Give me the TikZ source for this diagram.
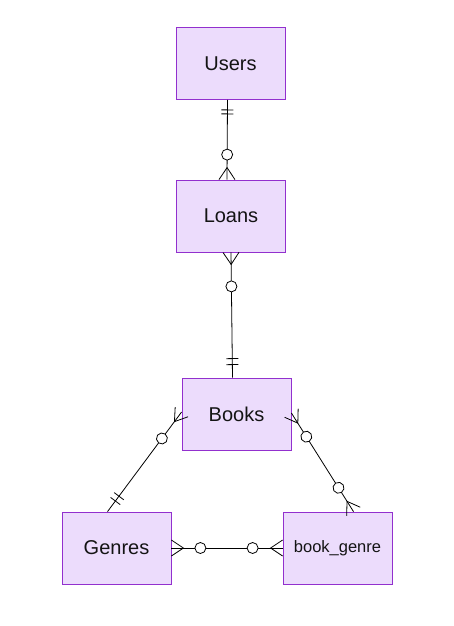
\documentclass[tikz,border=0pt]{standalone}
\usepackage{fontspec}
\setmainfont{Liberation Sans}
\usetikzlibrary{decorations.markings}
\definecolor{entfill}{RGB}{236,220,252}
\definecolor{entborder}{RGB}{146,48,206}
\definecolor{inktext}{RGB}{20,20,20}
\tikzset{
  entity/.style={draw=entborder, fill=entfill, line width=0.8pt,
    minimum width=109pt, minimum height=72pt, inner sep=0pt,
    text=inktext, font=\fontsize{20}{24}\selectfont},
  rel/.style={draw=black, line width=0.8pt},
  % one and only one
  onestart/.style={postaction={decorate, decoration={markings,
    mark=at position 10pt with {\draw[line width=0.8pt] (0,-6pt) -- (0,6pt);},
    mark=at position 14pt with {\draw[line width=0.8pt] (0,-6pt) -- (0,6pt);}}}},
  oneend/.style={postaction={decorate, decoration={markings,
    mark=at position -19pt with {\draw[line width=0.8pt] (0,-6pt) -- (0,6pt);},
    mark=at position -13pt with {\draw[line width=0.8pt] (0,-6pt) -- (0,6pt);}}}},
  % zero or many
  manystart/.style={postaction={decorate, decoration={markings,
    mark=at position 12pt with {\draw[line width=0.8pt] (-12pt,8pt) -- (0,0) -- (-12pt,-8pt);},
    mark=at position #1 with {\draw[line width=0.8pt, fill=white] (0,0) circle (5.5pt);}}}},
  manystart/.default=29pt,
  manyend/.style={postaction={decorate, decoration={markings,
    mark=at position -#1 with {\draw[line width=0.8pt, fill=white] (0,0) circle (5.5pt);},
    mark=at position -12pt with {\draw[line width=0.8pt] (12pt,8pt) -- (0,0) -- (12pt,-8pt);}}}},
  manyend/.default=29pt,
}
\begin{document}
\begin{tikzpicture}[x=1pt, y=-1pt]
  \useasboundingbox (0,0) rectangle (454,626);

  % tables
  \node[entity] (users)     at (230.5,63.5) {Users};
  \node[entity] (loans)     at (231,216)    {Loans};
  \node[entity] (books)     at (236.5,414)  {Books};
  \node[entity] (genres)    at (116.5,548)  {Genres};
  \node[entity, font=\fontsize{16.5}{20}\selectfont]
                (bookgenre) at (337.5,548)  {book\_genre};

  % relations
  \draw[rel, onestart, manyend=25pt]  ([xshift=-3pt]users.south) -- ([xshift=-4pt]loans.north);
  \draw[rel, manystart=34pt, oneend]  (loans.south) -- ([xshift=-4pt]books.north);
  \draw[rel, manystart=33pt, oneend]  ([yshift=2pt]books.west) -- ([xshift=-9pt]genres.north);
  \draw[rel, manystart=28pt, manyend=28pt] ([yshift=1pt]books.east) -- ([xshift=16pt]bookgenre.north);
  \draw[rel, manystart=29pt, manyend=30pt] (genres.east) -- (bookgenre.west);
\end{tikzpicture}
\end{document}
